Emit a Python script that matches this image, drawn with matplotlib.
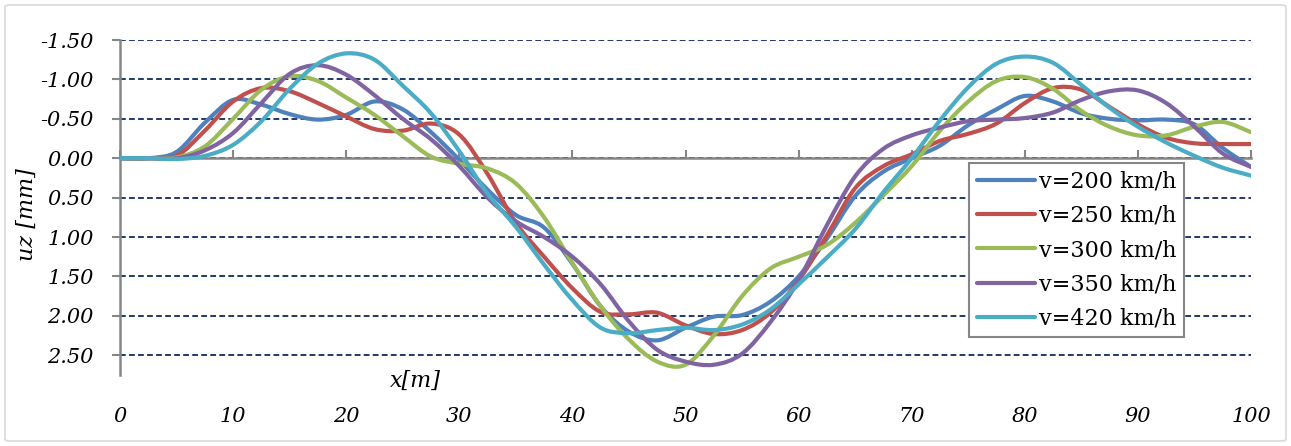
import matplotlib
matplotlib.use("Agg")
import matplotlib.pyplot as plt
import numpy as np
from matplotlib.patches import FancyBboxPatch, PathPatch
from matplotlib.path import Path
from matplotlib.lines import Line2D

# ---- data ----
x_m = [0, 2.5, 5, 7.5, 10, 12.5, 15, 17.5, 20, 22.5, 25, 27.5, 30, 32.5, 35, 37.5, 40,
       42.5, 45, 47.5, 50, 52.5, 55, 57.5, 60, 62.5, 65, 67.5, 70, 72.5, 75, 77.5, 80,
       82.5, 85, 87.5, 90, 92.5, 95, 97.5, 100]

uz_200 = [0, 0, -0.08, -0.45, -0.74, -0.68, -0.56, -0.49, -0.55, -0.72, -0.62, -0.33, 0.02,
          0.40, 0.72, 0.88, 1.34, 1.88, 2.20, 2.31, 2.15, 2.01, 1.99, 1.82, 1.50, 1.02, 0.48,
          0.17, 0.00, -0.16, -0.42, -0.62, -0.79, -0.72, -0.57, -0.50, -0.48, -0.49, -0.43,
          -0.13, 0.11]
uz_250 = [0, 0, -0.03, -0.35, -0.72, -0.89, -0.85, -0.70, -0.53, -0.37, -0.35, -0.44, -0.30,
          0.20, 0.82, 1.25, 1.65, 1.95, 1.98, 1.96, 2.12, 2.23, 2.18, 1.96, 1.55, 0.98, 0.38,
          0.10, -0.05, -0.22, -0.31, -0.44, -0.70, -0.89, -0.87, -0.65, -0.43, -0.26, -0.19,
          -0.18, -0.18]
uz_300 = [0, 0, -0.01, -0.15, -0.50, -0.87, -1.04, -0.98, -0.77, -0.55, -0.28, -0.02, 0.07,
          0.13, 0.32, 0.75, 1.33, 1.88, 2.30, 2.58, 2.62, 2.25, 1.75, 1.40, 1.25, 1.10, 0.82,
          0.47, 0.10, -0.35, -0.72, -0.98, -1.03, -0.88, -0.60, -0.40, -0.29, -0.29, -0.40,
          -0.46, -0.33]
uz_350 = [0, 0, 0, -0.10, -0.32, -0.70, -1.07, -1.18, -1.06, -0.80, -0.50, -0.24, 0.10,
          0.50, 0.80, 1.00, 1.25, 1.60, 2.07, 2.43, 2.58, 2.62, 2.48, 2.08, 1.55, 0.85, 0.23,
          -0.12, -0.29, -0.39, -0.47, -0.49, -0.51, -0.58, -0.74, -0.85, -0.86, -0.70, -0.40,
          -0.06, 0.11]
uz_420 = [0, 0, 0.01, -0.03, -0.17, -0.47, -0.88, -1.20, -1.33, -1.25, -0.92, -0.57, -0.09,
          0.45, 0.87, 1.35, 1.80, 2.15, 2.22, 2.18, 2.15, 2.18, 2.11, 1.92, 1.60, 1.26, 0.90,
          0.43, 0.00, -0.48, -0.90, -1.20, -1.29, -1.21, -0.93, -0.64, -0.40, -0.20, -0.03,
          0.12, 0.22]

series_labels = ["v=200 km/h", "v=250 km/h", "v=300 km/h", "v=350 km/h", "v=420 km/h"]
series_values = [uz_200, uz_250, uz_300, uz_350, uz_420]
series_colors = ["#4F81BD", "#C0504D", "#9BBB59", "#8064A2", "#4BACC6"]

x_ticks = [0, 10, 20, 30, 40, 50, 60, 70, 80, 90, 100]
y_ticks = [-1.5, -1.0, -0.5, 0.0, 0.5, 1.0, 1.5, 2.0, 2.5]


def smooth_path(xs, ys):
    """Excel-style smoothed line: cubic Bezier segments through the data points."""
    p = np.column_stack([xs, ys]).astype(float)
    n = len(p)
    verts = [p[0]]
    codes = [Path.MOVETO]
    for i in range(n - 1):
        p0 = p[i - 1] if i > 0 else p[i]
        p3 = p[i + 2] if i + 2 < n else p[i + 1]
        c1 = p[i] + (p[i + 1] - p0) / 6.0
        c2 = p[i + 1] - (p3 - p[i]) / 6.0
        verts += [c1, c2, p[i + 1]]
        codes += [Path.CURVE4] * 3
    return Path(verts, codes)


W, H = 1291, 446
fig = plt.figure(figsize=(W / 100, H / 100), dpi=100)
fig.patch.set_facecolor("white")

# outer chart border
border = FancyBboxPatch((5 / W, 5 / H), (W - 10) / W, (H - 10) / H,
                        boxstyle="round,pad=0,rounding_size=0.004",
                        transform=fig.transFigure, fill=False,
                        edgecolor="#D9D9D9", linewidth=1.2)
fig.patches.append(border)

ax = fig.add_axes([120 / W, 1 - 375 / H, (1251 - 120) / W, (375 - 40) / H])

serif = "DejaVu Serif"
grey = "#868686"

handles = []
for vals, lab, col in zip(series_values, series_labels, series_colors):
    patch = PathPatch(smooth_path(x_m, vals), facecolor="none", edgecolor=col, lw=3.0,
                      capstyle="round", joinstyle="round", zorder=3)
    ax.add_patch(patch)
    handles.append(Line2D([], [], color=col, lw=3.0, solid_capstyle="round", label=lab))

ax.set_xlim(0, 100)
ax.set_ylim(2.75, -1.5)

# gridlines
for yv in y_ticks:
    ax.axhline(yv, color="#0F2A5F", lw=1.3, ls=(0, (3.2, 1.8)), zorder=1)

# spines
for s in ["top", "right"]:
    ax.spines[s].set_visible(False)
ax.spines["left"].set_color(grey)
ax.spines["left"].set_linewidth(1.8)
ax.spines["bottom"].set_position(("data", 0))
ax.spines["bottom"].set_color(grey)
ax.spines["bottom"].set_linewidth(1.8)
ax.spines["bottom"].set_zorder(2)

ax.set_yticks(y_ticks)
ax.set_yticklabels([f"{v:.2f}" for v in y_ticks], fontfamily=serif, fontstyle="italic",
                   fontsize=15)
ax.tick_params(axis="y", direction="out", length=6, width=1.5, color=grey, pad=13)

ax.set_xticks(x_ticks)
ax.tick_params(axis="x", direction="in", length=6, width=1.5, color=grey,
               labelbottom=False)

# x tick labels at bottom of the plot area
sec = ax.secondary_xaxis("bottom")
sec.set_xticks(x_ticks)
sec.set_xticklabels([str(v) for v in x_ticks], fontfamily=serif, fontstyle="italic",
                    fontsize=15)
sec.tick_params(length=0, pad=23)
sec.spines["bottom"].set_visible(False)

# axis titles
fig.text(27 / W, 1 - 215 / H, "uz [mm]", rotation=90, ha="center", va="center",
         fontfamily=serif, fontstyle="italic", fontsize=16)
fig.text(415 / W, 1 - 381 / H, "x[m]", ha="center", va="center",
         fontfamily=serif, fontstyle="italic", fontsize=16)

leg = ax.legend(handles=handles, loc="upper left",
                bbox_to_anchor=((969 - 120) / (1251 - 120), (375 - 163) / (375 - 40)),
                frameon=True, fancybox=False, framealpha=1, edgecolor=grey,
                prop={"family": serif, "size": 16}, handlelength=2.6,
                handletextpad=0.2, labelspacing=0.55, borderpad=0.35, borderaxespad=0)
leg.get_frame().set_linewidth(1.5)
leg.set_zorder(5)

fig.savefig("out.png", dpi=100, facecolor="white")
